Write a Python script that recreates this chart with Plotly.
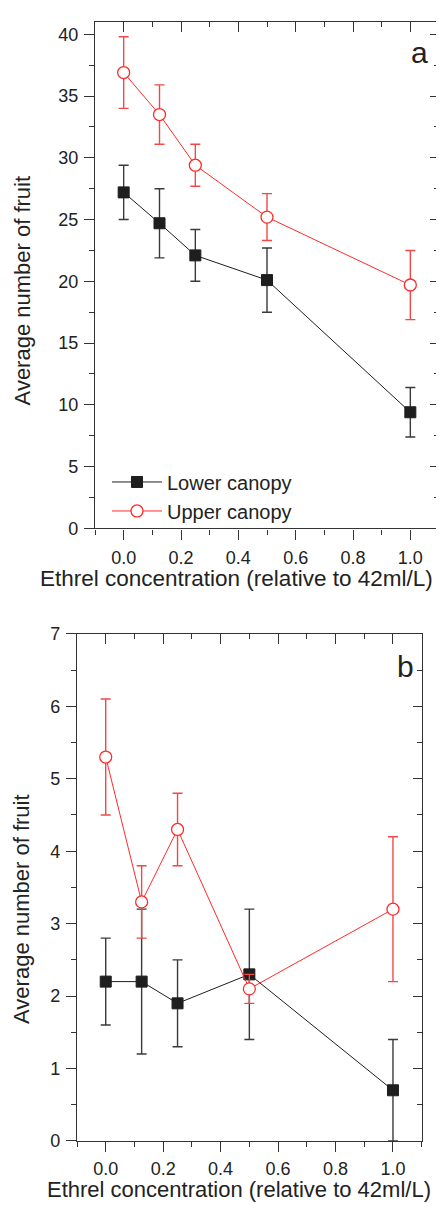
import plotly.graph_objects as go

# ---- data ----
conc = [0.0, 0.125, 0.25, 0.5, 1.0]

# panel a
a_lower = [27.2, 24.7, 22.1, 20.1, 9.4]
a_lower_err = [2.2, 2.8, 2.1, 2.6, 2.0]
a_upper = [36.9, 33.5, 29.4, 25.2, 19.7]
a_upper_err = [2.9, 2.4, 1.7, 1.9, 2.8]

# panel b
b_lower = [2.2, 2.2, 1.9, 2.3, 0.7]
b_lower_err = [0.6, 1.0, 0.6, 0.9, 0.7]
b_upper = [5.3, 3.3, 4.3, 2.1, 3.2]
b_upper_err = [0.8, 0.5, 0.5, 0.2, 1.0]

series_names = ["Lower canopy", "Upper canopy"]
x_title = "Ethrel concentration (relative to 42ml/L)"
y_title = "Average number of fruit"
panel_labels = ["a", "b"]

# the page body has an 8px margin; figure is sized/placed to compensate
OFF = 8
W, H = 444 - OFF, 1209 - OFF
FONT = "Liberation Sans, Arial, sans-serif"
BLACK = "#1e1e1e"
RED = "#ff2a2a"
AX = "#333333"


def px(p):
    return (p - OFF) / W


def py(p):
    return (H - (p - OFF)) / H


fig = go.Figure()


def add_panel(xa, ya, lower, lower_err, upper, upper_err, show_legend):
    fig.add_trace(go.Scatter(
        x=conc, y=lower, name=series_names[0], mode="lines+markers",
        xaxis=xa, yaxis=ya, showlegend=show_legend,
        line=dict(color=BLACK, width=1),
        marker=dict(symbol="square", size=11, color=BLACK,
                    line=dict(color=BLACK, width=1)),
        error_y=dict(type="data", array=lower_err, visible=True,
                     color="#3a3a3a", thickness=1.4, width=5),
    ))
    fig.add_trace(go.Scatter(
        x=conc, y=upper, name=series_names[1], mode="lines+markers",
        xaxis=xa, yaxis=ya, showlegend=show_legend,
        line=dict(color=RED, width=1),
        marker=dict(symbol="circle", size=12, color="white",
                    line=dict(color=RED, width=1.3)),
        error_y=dict(type="data", array=upper_err, visible=True,
                     color="#f24848", thickness=1.4, width=5),
    ))


add_panel("x", "y", a_lower, a_lower_err, a_upper, a_upper_err, True)
add_panel("x2", "y2", b_lower, b_lower_err, b_upper, b_upper_err, False)

# invisible traces to anchor the mirror (inside-tick) axes
fig.add_trace(go.Scatter(x=conc, y=a_lower, xaxis="x3", yaxis="y3",
                         opacity=0, showlegend=False, hoverinfo="skip"))
fig.add_trace(go.Scatter(x=conc, y=b_lower, xaxis="x4", yaxis="y4",
                         opacity=0, showlegend=False, hoverinfo="skip"))

# geometry (page pixels)
ax_dom = [px(95), px(439)]
ay_dom = [py(527), py(12)]
bx_dom = [px(77), px(421.7)]
by_dom = [py(1150), py(634.3)]

tickfont = dict(family=FONT, size=18, color="#222222")


def xaxis_main(dom, anchor, standoff):
    return dict(domain=dom, anchor=anchor, range=[-0.1, 1.1],
                tick0=0, dtick=0.2, tickformat=".1f",
                ticks="outside", ticklen=10, tickwidth=1.3, tickcolor=AX,
                ticklabelstandoff=standoff,
                minor=dict(ticks="outside", ticklen=5, dtick=0.1, tick0=0,
                           tickwidth=1.3, tickcolor=AX, showgrid=False),
                showline=True, linecolor=AX, linewidth=1.3,
                showgrid=False, zeroline=False, tickfont=tickfont)


def xaxis_top(dom, anchor, over):
    return dict(domain=dom, anchor=anchor, overlaying=over, side="top",
                range=[-0.1, 1.1], tick0=0, dtick=0.2,
                ticks="inside", ticklen=10, tickwidth=1.3, tickcolor=AX,
                minor=dict(ticks="inside", ticklen=5, dtick=0.1, tick0=0,
                           tickwidth=1.3, tickcolor=AX, showgrid=False),
                showticklabels=False, showline=True, linecolor=AX,
                linewidth=1.3, showgrid=False, zeroline=False)


def yaxis_main(dom, anchor, rng, dt):
    return dict(domain=dom, anchor=anchor, range=rng, tick0=0, dtick=dt,
                ticks="outside", ticklen=10, tickwidth=1.3, tickcolor=AX,
                ticklabelstandoff=2,
                minor=dict(ticks="outside", ticklen=5, dtick=dt / 2, tick0=0,
                           tickwidth=1.3, tickcolor=AX, showgrid=False),
                showline=True, linecolor=AX, linewidth=1.3,
                showgrid=False, zeroline=False, tickfont=tickfont)


def yaxis_right(dom, anchor, over, rng, dt):
    return dict(domain=dom, anchor=anchor, overlaying=over, side="right",
                range=rng, tick0=0, dtick=dt,
                ticks="inside", ticklen=9, tickwidth=1.3, tickcolor=AX,
                minor=dict(ticks="inside", ticklen=5, dtick=dt / 2, tick0=0,
                           tickwidth=1.3, tickcolor=AX, showgrid=False),
                showticklabels=False, showline=True, linecolor=AX,
                linewidth=1.3, showgrid=False, zeroline=False)


fig.update_layout(
    width=W, height=H,
    margin=dict(l=0, r=0, t=0, b=0),
    paper_bgcolor="white", plot_bgcolor="white",
    font=dict(family=FONT, color="#222222"),
    xaxis=xaxis_main(ax_dom, "y", 3),
    yaxis=yaxis_main(ay_dom, "x", [0, 41], 5),
    xaxis2=xaxis_main(bx_dom, "y2", 1),
    yaxis2=yaxis_main(by_dom, "x2", [0, 7], 1),
    xaxis3=xaxis_top(ax_dom, "y3", "x"),
    yaxis3=yaxis_right(ay_dom, "x3", "y", [0, 41], 5),
    xaxis4=xaxis_top(bx_dom, "y4", "x2"),
    yaxis4=yaxis_right(by_dom, "x4", "y2", [0, 7], 1),
    showlegend=True,
    legend=dict(x=px(107), y=py(460), xanchor="left", yanchor="top",
                bgcolor="rgba(0,0,0,0)", itemwidth=50,
                font=dict(family=FONT, size=20, color="#222222"),
                tracegroupgap=0),
    hovermode=False,
)

title_font = dict(family=FONT, size=22, color="#222222")
xt_font = dict(family=FONT, size=22.5, color="#222222")
xt_font_b = dict(family=FONT, size=22, color="#222222")
ann = [
    dict(text=y_title, x=px(22), y=py(285), textangle=-90, font=title_font),
    dict(text=y_title, x=px(22), y=py(914), textangle=-90, font=title_font),
    dict(text=x_title, x=px(236), y=py(578), font=xt_font),
    dict(text=x_title, x=px(239.5), y=py(1199), font=xt_font_b),
    dict(text=panel_labels[0], x=px(419), y=py(43),
         font=dict(family=FONT, size=30, color="#222222")),
    dict(text=panel_labels[1], x=px(405), y=py(667),
         font=dict(family=FONT, size=30, color="#222222")),
]
for a in ann:
    a.update(xref="paper", yref="paper", showarrow=False,
             xanchor="center", yanchor="middle")
fig.update_layout(annotations=ann)

fig.write_html("out.html", config={"displayModeBar": False})
